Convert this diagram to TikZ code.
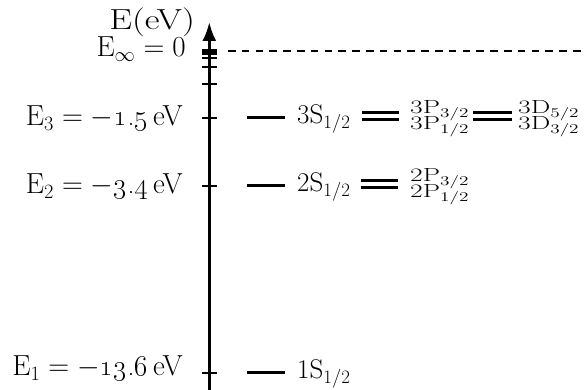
\RequirePackage{fix-cm}
\documentclass[tikz,border=0pt]{standalone}
\usetikzlibrary{arrows.meta}
\newcommand{\stackpair}[2]{\scalebox{1.45}[1]{\rlap{\raisebox{8pt}{#1}}\raisebox{-8pt}{#2}}}
\begin{document}
\begin{tikzpicture}[x=1pt,y=-1pt,
  axisline/.style={line width=3pt,-{Latex[length=19pt,width=14pt]}},
  tickline/.style={line width=2pt},
  levelline/.style={line width=3pt},
  dblline/.style={line width=3pt},
  dashline/.style={line width=2pt,dash pattern=on 7.5pt off 6.3pt},
  mainlbl/.style={font=\fontsize{29}{34}\selectfont,inner sep=0pt,anchor=base east},
  lvllbl/.style={font=\fontsize{27}{32}\selectfont,inner sep=0pt,anchor=base west},
  stklbl/.style={font=\fontsize{19}{23}\selectfont,inner sep=0pt,anchor=base west},
]
\useasboundingbox (0,0) rectangle (587,390);
% axis
\coordinate (ax0) at (209.3,390);
\coordinate (ax1) at (209.3,22);
\draw[axisline] (ax0) -- (ax1);
% ticks
\foreach \y in {373,186,118,84,67,58,54.25,52.1,51.06,50.5,50.27}
  \draw[tickline] (202,\y) -- (217,\y);
% ionisation limit
\coordinate (inf0) at (228,51);
\coordinate (inf1) at (587,51);
\draw[dashline] (inf0) -- (inf1);
% axis labels
\node[mainlbl] (eaxis) at (195,29.5) {\scalebox{1.25}[1]{E(eV)}};
\node[mainlbl] (einf) at (186,57) {E$_\infty=0$};
\node[mainlbl] (e3) at (183,126) {E$_3=-$\oldstylenums{1.5}\,eV};
\node[mainlbl] (e2) at (183,194) {E$_2=-$\oldstylenums{3.4}\,eV};
\node[mainlbl] (e1) at (183,376) {E$_1=-$\oldstylenums{13.6}\,eV};
% level lines
\draw[levelline] (247,373) -- (285,373);
\draw[levelline] (247,186) -- (285,186);
\draw[levelline] (247,118) -- (285,118);
% n=1
\node[lvllbl] (s1) at (297,379) {1S$_{1/2}$};
% n=2
\node[lvllbl] (s2) at (297,192) {2S$_{1/2}$};
\draw[dblline] (361,181) -- (398,181);
\draw[dblline] (361,188) -- (398,188);
\node[stklbl] (p2) at (410,190) {\stackpair{2P$_{3/2}$}{2P$_{1/2}$}};
% n=3
\node[lvllbl] (s3) at (297,124) {3S$_{1/2}$};
\draw[dblline] (362,113) -- (399,113);
\draw[dblline] (362,120) -- (399,120);
\node[stklbl] (p3) at (410,122) {\stackpair{3P$_{3/2}$}{3P$_{1/2}$}};
\draw[dblline] (473,113) -- (512,113);
\draw[dblline] (473,120) -- (512,120);
\node[stklbl] (d3) at (518,122) {\stackpair{3D$_{5/2}$}{3D$_{3/2}$}};
\end{tikzpicture}
\end{document}
